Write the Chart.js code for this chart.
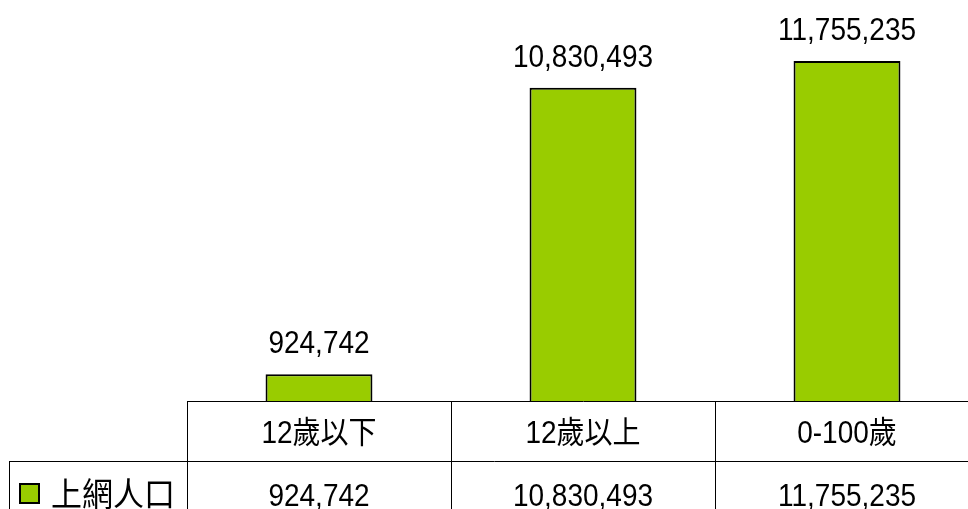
<!DOCTYPE html>
<html>
<head>
<meta charset="utf-8">
<script src="https://cdn.jsdelivr.net/npm/chart.js@4/dist/chart.umd.min.js"></script>
<style>
html,body{margin:0;padding:0;background:#fff;overflow:hidden;width:968px;height:509px;}
#wrap{position:absolute;left:0;top:0;width:980px;height:509px;}
</style>
</head>
<body>
<div id="wrap"><canvas id="c" width="980" height="509"></canvas></div>
<script>
const categories = ['12歲以下', '12歲以上', '0-100歲'];
const seriesName = '上網人口';
const values = [924742, 10830493, 11755235];

const FONT = '"Liberation Sans", Arial, "Noto Sans CJK TC", sans-serif';
const fmt = v => v.toLocaleString('en-US');

function drawText(ctx, text, x, y, sy) {
  ctx.save();
  ctx.translate(x, y);
  ctx.scale(1, sy);
  ctx.fillText(text, 0, 0);
  ctx.restore();
}

const tablePlugin = {
  id: 'tablePlugin',
  afterDraw(chart) {
    const ctx = chart.ctx;
    const xs = chart.scales.x;
    const area = chart.chartArea;
    const W = chart.width, H = chart.height;
    const base = Math.round(area.bottom);
    const row1 = base + 60;
    const n = categories.length;
    const half = (xs.getPixelForValue(1) - xs.getPixelForValue(0)) / 2;
    ctx.save();
    ctx.strokeStyle = '#000';
    ctx.lineWidth = 1;
    ctx.beginPath();
    ctx.moveTo(area.left, base + 0.5); ctx.lineTo(W, base + 0.5);
    ctx.moveTo(9, row1 + 0.5); ctx.lineTo(W, row1 + 0.5);
    ctx.moveTo(9.5, row1); ctx.lineTo(9.5, H);
    for (let i = 0; i < n; i++) {
      const x = Math.round(xs.getPixelForValue(i) - half) + 0.5;
      ctx.moveTo(x, base); ctx.lineTo(x, H);
    }
    ctx.stroke();
    ctx.fillStyle = '#000';
    ctx.font = '28px ' + FONT;
    ctx.textAlign = 'center';
    ctx.textBaseline = 'alphabetic';
    for (let i = 0; i < n; i++) {
      const cx = xs.getPixelForValue(i);
      drawText(ctx, categories[i], cx, base + 42, 1.1);
      drawText(ctx, fmt(values[i]), cx, row1 + 45, 1.1);
    }
    // legend key
    ctx.fillStyle = '#99CC00';
    ctx.fillRect(20, row1 + 23, 19, 19);
    ctx.strokeStyle = '#000';
    ctx.lineWidth = 2;
    ctx.strokeRect(20, row1 + 23, 19, 19);
    ctx.fillStyle = '#000';
    ctx.textAlign = 'left';
    ctx.font = '31px ' + FONT;
    drawText(ctx, seriesName, 51, row1 + 45, 1.05);
    ctx.restore();
  }
};

const labelPlugin = {
  id: 'labelPlugin',
  afterDatasetsDraw(chart) {
    const ctx = chart.ctx;
    const meta = chart.getDatasetMeta(0);
    ctx.save();
    ctx.fillStyle = '#000';
    ctx.font = '28px ' + FONT;
    ctx.textAlign = 'center';
    ctx.textBaseline = 'alphabetic';
    meta.data.forEach((bar, i) => {
      drawText(ctx, fmt(values[i]), bar.x, bar.y - 21, 1.1);
    });
    ctx.restore();
  }
};

new Chart(document.getElementById('c'), {
  type: 'bar',
  data: {
    labels: categories,
    datasets: [{
      label: seriesName,
      data: values,
      backgroundColor: '#99CC00',
      borderColor: '#000',
      borderWidth: 2,
      borderSkipped: 'bottom',
      categoryPercentage: 1.0,
      barPercentage: 0.405
    }]
  },
  options: {
    responsive: false,
    animation: false,
    layout: { padding: { left: 187, right: 1, top: 0, bottom: 108 } },
    plugins: { legend: { display: false }, tooltip: { enabled: false } },
    scales: {
      x: { display: false, offset: true },
      y: { display: false, min: 0, max: 13860000 }
    }
  },
  plugins: [tablePlugin, labelPlugin]
});
</script>
</body>
</html>
